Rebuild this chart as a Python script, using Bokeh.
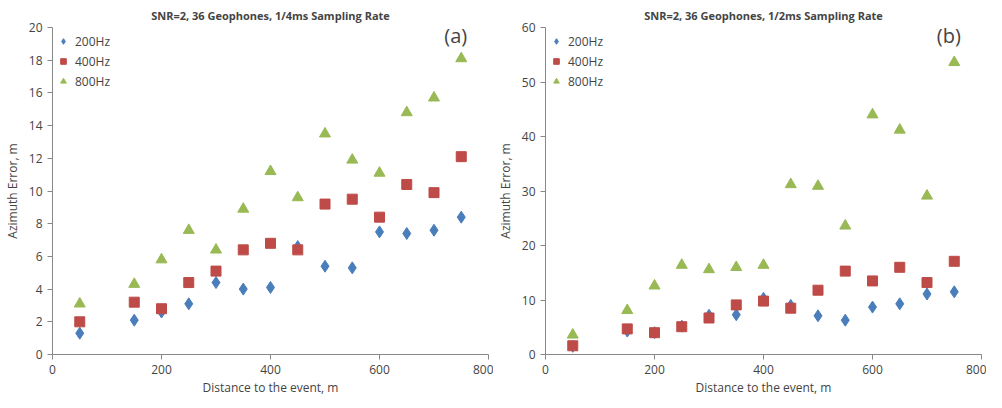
from bokeh.plotting import figure
from bokeh.layouts import row
from bokeh.models import Label, Range1d
from bokeh.embed import file_html
from bokeh.resources import INLINE

dist = [50,150,200,250,300,350,400,450,500,550,600,650,700,750]
a_200 = [1.3,2.1,2.6,3.1,4.4,4.0,4.1,6.6,5.4,5.3,7.5,7.4,7.6,8.4]
a_400 = [2.0,3.2,2.8,4.4,5.1,6.4,6.8,6.4,9.2,9.5,8.4,10.4,9.9,12.1]
a_800 = [3.1,4.3,5.8,7.6,6.4,8.9,11.2,9.6,13.5,11.9,11.1,14.8,15.7,18.1]
b_200 = [1.5,4.3,4.0,5.2,7.2,7.3,10.3,9.0,7.1,6.3,8.7,9.3,11.1,11.5]
b_400 = [1.6,4.7,4.0,5.1,6.7,9.1,9.8,8.5,11.8,15.3,13.5,16.0,13.2,17.1]
b_800 = [3.6,8.1,12.6,16.4,15.6,16.0,16.4,31.2,30.9,23.6,44.0,41.2,29.1,53.6]

F = "Open Sans"
def panel(title, lab, s2, s4, s8, ymax, yint):
    p = figure(width=493, height=398, output_backend="svg", toolbar_location=None,
               title=title, x_range=Range1d(0, 800), y_range=Range1d(0, ymax),
               min_border_top=4, min_border_bottom=4)
    p.title.align = "center"; p.title.text_font = F; p.title.text_font_size = "11px"
    p.title.text_font_style = "bold"
    p.xgrid.visible = False; p.ygrid.visible = False
    p.outline_line_color = None
    p.xaxis.ticker = [0,200,400,600,800]
    p.yaxis.ticker = list(range(0, ymax+1, yint))
    for ax in (p.xaxis[0], p.yaxis[0]):
        ax.axis_line_color = "#888888"; ax.major_tick_line_color = "#888888"
        ax.minor_tick_line_color = None; ax.major_tick_in = 0; ax.major_tick_out = 5
        ax.major_label_text_font = F; ax.major_label_text_font_size = "12px"
        ax.axis_label_text_font = F; ax.axis_label_text_font_size = "12px"
        ax.axis_label_text_font_style = "normal"
    p.xaxis.axis_label_standoff = 2
    p.xaxis.axis_label = "Distance to the event, m"
    p.yaxis.axis_label = "Azimuth Error, m"
    p.scatter(dist, s2, marker="diamond", size=12, color="#4a7ebb", legend_label="200Hz")
    p.scatter(dist, s4, marker="square", size=10, color="#be4b48", legend_label="400Hz")
    p.scatter(dist, s8, marker="triangle", size=11, color="#98b954", legend_label="800Hz")
    p.legend.location = "top_left"; p.legend.border_line_color = None
    p.legend.background_fill_alpha = 0; p.legend.label_text_font = F
    p.legend.label_text_font_size = "12px"; p.legend.spacing = -6
    p.legend.glyph_width = 14; p.legend.margin = 4
    p.add_layout(Label(x=740, y=ymax*0.935, text=lab, text_font=F,
                       text_font_size="20px", text_align="center"))
    return p

pa = panel("SNR=2, 36 Geophones, 1/4ms Sampling Rate", "(a)", a_200, a_400, a_800, 20, 2)
pb = panel("SNR=2, 36 Geophones, 1/2ms Sampling Rate", "(b)", b_200, b_400, b_800, 60, 10)
open("out.html", "w").write(file_html(row(pa, pb), INLINE))
